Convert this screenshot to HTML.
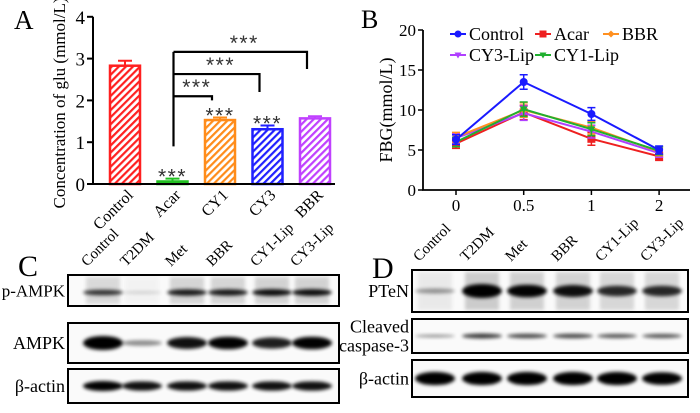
<!DOCTYPE html>
<html><head><meta charset="utf-8"><style>
html,body{margin:0;padding:0;background:#fff}
svg{display:block;font-family:"Liberation Serif",serif}
</style></head><body>
<svg id="fig" width="700" height="413" viewBox="0 0 700 413" xmlns="http://www.w3.org/2000/svg">
<defs>
<filter id="blur2" x="-30%" y="-100%" width="160%" height="300%"><feGaussianBlur stdDeviation="1.8"/></filter>
</defs>
<g id="panelA"></g>
<g id="panelB"></g>
<g id="panelC"></g>
<g id="panelD"></g>
</svg>
<script>
// ---- Panel A data ----
const aCategories = ["Control","Acar","CY1","CY3","BBR"];
const aValues = [2.83, 0.06, 1.53, 1.31, 1.57];
const aErrors = [0.12, 0.07, 0.06, 0.09, 0.05];
const aColors = ["#ff2020","#20c020","#ff8c1a","#2020ff","#c040ff"];
const aStars = ["", "***", "***", "***", ""];
const aTicks = [0,1,2,3,4];
// ---- Panel B data ----
const bCategories = ["0","0.5","1","2"];
const bControl = [6.3, 13.5, 9.5, 5.0];
const bAcar = [5.8, 9.7, 6.4, 4.2];
const bBBR = [6.6, 10.0, 7.8, 4.8];
const bCY3 = [6.5, 9.6, 7.3, 4.6];
const bCY1 = [6.0, 10.1, 7.6, 4.9];
const bErr = [0.6, 0.9, 0.8, 0.5];
const bTicks = [0,5,10,15,20];
// ---- Blot lanes ----
const cLanes = ["Control","T2DM","Met","BBR","CY1-Lip","CY3-Lip"];
const cPAMPK = [0.7, 0.15, 0.8, 0.8, 0.85, 0.85];
const cAMPK = [1.0, 0.4, 0.85, 0.9, 0.8, 0.9];
const cActin = [0.9, 0.85, 0.85, 0.85, 0.85, 0.85];
const dLanes = ["Control","T2DM","Met","BBR","CY1-Lip","CY3-Lip"];
const dPTEN = [0.35, 1.0, 0.9, 0.85, 0.75, 0.75];
const dCasp = [0.4, 0.7, 0.65, 0.65, 0.6, 0.6];
const dActin = [0.95, 0.95, 0.95, 0.95, 0.95, 0.9];

const NS="http://www.w3.org/2000/svg";
function mk(parent, tag, attrs, text){
  const e=document.createElementNS(NS,tag);
  for(const k in attrs) e.setAttribute(k,attrs[k]);
  if(text!==undefined) e.textContent=text;
  parent.appendChild(e); return e;
}
const starAttrs={'text-anchor':'middle','font-size':21,fill:'#333','font-family':'Liberation Sans, sans-serif','letter-spacing':'1.5'};

// ===== Panel A =====
(function(){
  const g=document.getElementById('panelA');
  const x0=93, x1=335, y0=184, pxPer=41.8;
  const ys=v=>y0-v*pxPer;
  const xc=i=>125+i*47.5;
  const t=mk(g,'text',{x:14,y:29,'font-size':27},'A');
  
  
  const pat=document.querySelector('defs');
  aColors.forEach((c,i)=>{
    const p=mk(pat,'pattern',{id:'hatch'+i,width:5,height:5,patternUnits:'userSpaceOnUse',patternTransform:'rotate(45)'});
    mk(p,'rect',{width:5,height:5,fill:'#fff'});
    mk(p,'rect',{width:2.2,height:5,fill:c});
  });
  aValues.forEach((v,i)=>{
    const w=30, x=xc(i)-w/2;
    const b=mk(g,'rect',{x:x,y:ys(v),width:w,height:y0-ys(v),fill:'url(#hatch'+i+')',stroke:aColors[i],'stroke-width':2.5});
    
    
    const e=mk(g,'path',{d:`M${xc(i)} ${ys(v)}V${ys(v+aErrors[i])}M${xc(i)-7} ${ys(v+aErrors[i])}H${xc(i)+7}`,stroke:aColors[i],'stroke-width':2,fill:'none'});
    
    
    if(aStars[i]){
      const s=mk(g,'text',Object.assign({x:xc(i),y:ys(v+aErrors[i])+5},starAttrs),aStars[i]);
      
      
    }
    const lab=mk(g,'text',{x:0,y:0,'text-anchor':'end','font-size':16,transform:`translate(${xc(i)+9},${y0+12}) rotate(-45)`},aCategories[i]);
    
    
  });
  const ax=mk(g,'path',{d:`M${x0} ${ys(4)}V${y0}H${x1}`,stroke:'#000','stroke-width':2,fill:'none'});
  
  
  aTicks.forEach(v=>{
    mk(g,'path',{d:`M${x0-6} ${ys(v)}H${x0}`,stroke:'#000','stroke-width':2});
    const tl=mk(g,'text',{x:x0-8,y:ys(v)+7,'text-anchor':'end','font-size':19},v);
    
    
  });
  const yt=mk(g,'text',{x:0,y:0,'text-anchor':'middle','font-size':17,transform:'translate(65,103) rotate(-90)'},'Concentration of glu (mmol/L)');
  
  
  const br=[[2,2.1,2.0],[3,2.63,2.2],[4,3.16,2.75]];
  const ax1=xc(1)+1;
  const bp=mk(g,'path',{d:`M${ax1} ${ys(0.9)}V${ys(3.16)}`,stroke:'#000','stroke-width':2.2,fill:'none'});
  
  
  br.forEach(([j,h,lo])=>{
    const p=mk(g,'path',{d:`M${ax1} ${ys(h)}H${xc(j)-8}V${ys(lo)}`,stroke:'#000','stroke-width':2.2,fill:'none'});
    
    
    const s=mk(g,'text',Object.assign({x:(ax1+xc(j))/2,y:ys(h)-2},starAttrs),'***');
    
    
  });
})();

// ===== Panel B =====
(function(){
  const g=document.getElementById('panelB');
  const x0=423, x1=690, y0=190, pxPer=8;
  const ys=v=>y0-v*pxPer;
  const xs=i=>456+i*67.7;
  const t=mk(g,'text',{x:361,y:28,'font-size':26},'B');
  
  
  mk(g,'path',{d:`M${x0} ${ys(20)}V${y0}H${x1}`,stroke:'#000','stroke-width':1.8,fill:'none'});
  bTicks.forEach(v=>{
    mk(g,'path',{d:`M${x0-5} ${ys(v)}H${x0}`,stroke:'#000','stroke-width':1.5});
    const tl=mk(g,'text',{x:x0-7,y:ys(v)+6,'text-anchor':'end','font-size':17},v);
    
    
  });
  bCategories.forEach((c,i)=>{
    mk(g,'path',{d:`M${xs(i)} ${y0}V${y0+5}`,stroke:'#000','stroke-width':1.5});
    const tl=mk(g,'text',{x:xs(i),y:y0+21,'text-anchor':'middle','font-size':17},c);
    
    
  });
  const yt=mk(g,'text',{x:0,y:0,'text-anchor':'middle','font-size':18,transform:'translate(392,110) rotate(-90)'},'FBG(mmol/L)');
  
  
  const series=[["Acar",bAcar,"#ee2020","sq"],["CY3-Lip",bCY3,"#b040ff","tri"],["BBR",bBBR,"#ff9020","dia"],["CY1-Lip",bCY1,"#20b030","tri"],["Control",bControl,"#1a1aff","dot"]];
  function marker(par,type,x,y,c,r){
    if(type==='sq') return mk(par,'rect',{x:x-r,y:y-r,width:2*r,height:2*r,fill:c});
    if(type==='dot') return mk(par,'circle',{cx:x,cy:y,r:r,fill:c});
    if(type==='dia') return mk(par,'path',{d:`M${x} ${y-r}L${x+r} ${y}L${x} ${y+r}L${x-r} ${y}Z`,fill:c});
    return mk(par,'path',{d:`M${x-r} ${y-r*0.7}H${x+r}L${x} ${y+r}Z`,fill:c});
  }
  series.forEach(([name,vals,c,m])=>{
    const sg=mk(g,'g',{});
    
    
    mk(sg,'polyline',{points:vals.map((v,i)=>xs(i)+','+ys(v)).join(' '),fill:'none',stroke:c,'stroke-width':2});
    vals.forEach((v,i)=>{
      const e=bErr[i];
      mk(sg,'path',{d:`M${xs(i)} ${ys(v-e)}V${ys(v+e)}M${xs(i)-4} ${ys(v-e)}H${xs(i)+4}M${xs(i)-4} ${ys(v+e)}H${xs(i)+4}`,stroke:c,'stroke-width':1.5,fill:'none'});
      const pt=marker(sg,m,xs(i),ys(v),c,4);
      
      
    });
  });
  const leg=[["Control","#1a1aff","dot",450,34],["Acar","#ee2020","sq",535,34],["BBR","#ff9020","dia",603,34],["CY3-Lip","#b040ff","tri",450,55],["CY1-Lip","#20b030","tri",535,55]];
  leg.forEach(([n,c,m,x,y])=>{
    const lg=mk(g,'g',{});
    
    
    mk(lg,'path',{d:`M${x} ${y}H${x+16}`,stroke:c,'stroke-width':2});
    marker(lg,m,x+8,y,c,3.5);
    mk(lg,'text',{x:x+19,y:y+6,'font-size':18},n);
  });
})();

// ===== Blots =====
function blotPanel(gid, letter, lx, ly, lanes, lanePos, boxX0, boxX1, rows, labelDY){
  const g=document.getElementById(gid);
  const t=mk(g,'text',{x:lx,y:ly,'font-size':30},letter);
  
  
  lanes.forEach((l,i)=>{
    const tl=mk(g,'text',{x:0,y:0,'font-size':15,transform:`translate(${lanePos[i]-16},${labelDY}) rotate(-45)`},l);
    
    
  });
  rows.forEach(r=>{
    const rg=mk(g,'g',{});
    
    
    mk(rg,'rect',{x:boxX0,y:r.y0,width:boxX1-boxX0,height:r.y1-r.y0,fill:'#fafafa'});
    const cy=(r.y0+r.y1)/2+(r.off||0);
    r.vals.forEach((v,i)=>{
      if(r.smear){
        mk(rg,'rect',{x:lanePos[i]-17,y:r.y0+2,width:34,height:r.y1-r.y0-4,fill:'#888',opacity:v*0.4,filter:'url(#blur2)'});
      }
      const b=mk(rg,'ellipse',{cx:lanePos[i],cy:cy,rx:20,ry:(r.th||5)*Math.max(v,0.3),fill:'#000',opacity:Math.min(1,v*1.1),filter:'url(#blur2)'});
      
      
    });
    mk(rg,'rect',{x:boxX0,y:r.y0,width:boxX1-boxX0,height:r.y1-r.y0,fill:'none',stroke:'#000','stroke-width':2});
    r.label.forEach((s,k)=>{
      const tl=mk(rg,'text',{x:boxX0-3,y:(r.y0+r.y1)/2+6+(k-(r.label.length-1)/2)*19,'text-anchor':'end','font-size':r.fs||18},s);
      
      
    });
  });
}
blotPanel('panelC','C',18,276,cLanes,[103,142,187,228,272,312],68,339,[
  {name:'p-ampk',y0:275,y1:306,vals:cPAMPK,label:['p-AMPK'],smear:true,th:4,off:2,fs:17},
  {name:'ampk',y0:323,y1:363,vals:cAMPK,label:['AMPK'],th:7},
  {name:'actin',y0:369,y1:403,vals:cActin,label:['β-actin'],th:5.5}
],267);
blotPanel('panelD','D',372,278,dLanes,[435,482,527,573,617,662],412,688,[
  {name:'pten',y0:270,y1:312,vals:dPTEN,label:['PTeN'],smear:true,th:7},
  {name:'cleaved-caspase-3',y0:319,y1:353,vals:dCasp,label:['Cleaved','caspase-3'],th:3.5},
  {name:'actin',y0:360,y1:397,vals:dActin,label:['β-actin'],th:7}
],262);
</script>
</body></html>
